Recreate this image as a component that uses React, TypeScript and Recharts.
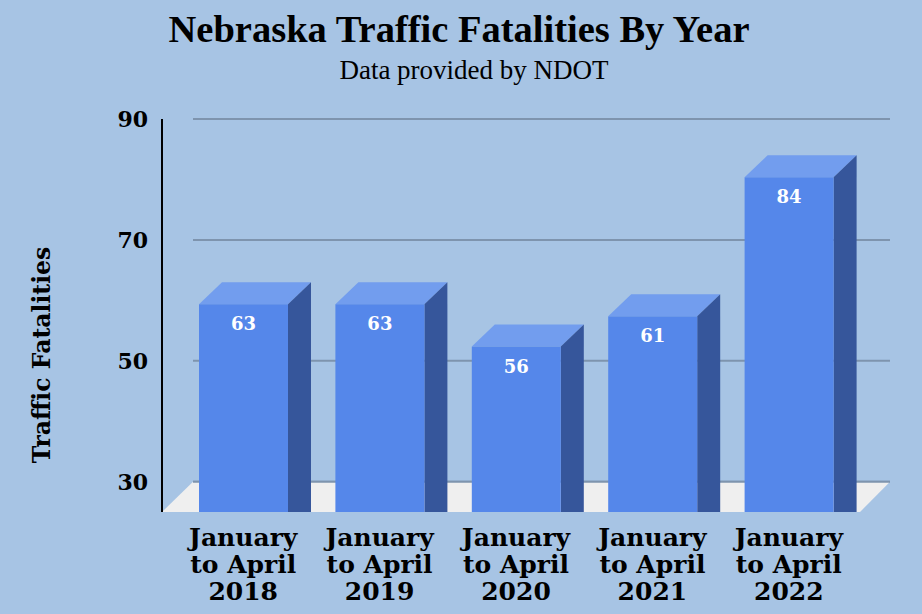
import React from 'react';
import { BarChart, Bar, XAxis, YAxis, CartesianGrid, ReferenceArea, Label } from 'recharts';

const periods = [
  'January to April 2018',
  'January to April 2019',
  'January to April 2020',
  'January to April 2021',
  'January to April 2022',
];
const fatalities = [63, 63, 56, 61, 84];
const yTicks = [30, 50, 70, 90];

const data = periods.map((period, i) => ({ period, fatalities: fatalities[i] }));

const SERIF = '"DejaVu Serif", Georgia, serif';
const TITLE_FONT = '"Liberation Serif", "Times New Roman", serif';

// bar depth (3d offset) and floor depth
const BAR_DX = 23;
const BAR_DY = 22;
const FLOOR_D = 31;
const PAD_LEFT = 13;
const PAD_RIGHT = 33;

const Bar3D = (props: any) => {
  const { x, y, width, height, payload } = props;
  const bottom = y + height;
  const frontTop = y + BAR_DY;
  const right = x + width;
  return (
    <g>
      <polygon
        points={`${x},${frontTop} ${x + BAR_DX},${y} ${right + BAR_DX},${y} ${right},${frontTop}`}
        fill="#729dee"
      />
      <polygon
        points={`${right},${frontTop} ${right + BAR_DX},${y} ${right + BAR_DX},${bottom} ${right},${bottom}`}
        fill="#36569b"
      />
      <rect x={x} y={frontTop} width={width} height={bottom - frontTop} fill="#5587ea" />
      <text
        x={x + width / 2}
        y={frontTop + 26}
        textAnchor="middle"
        fill="#ffffff"
        fontFamily={SERIF}
        fontWeight="bold"
        fontSize={18}
      >
        {payload.fatalities}
      </text>
    </g>
  );
};

// the reference area only spans the padded band range, so stretch it back to the plot edges
const Floor = (props: any) => {
  const { y, height } = props;
  const x = props.x - PAD_LEFT;
  const width = props.width + PAD_LEFT + PAD_RIGHT;
  return (
    <g>
      <polygon
        points={`${x},${y + height} ${x + FLOOR_D},${y} ${x + width},${y} ${x + width - FLOOR_D + 1},${y + height}`}
        fill="#efefef"
      />
      <line x1={x + FLOOR_D} x2={x + width} y1={y} y2={y} stroke="#7e94ae" strokeWidth={2} />
    </g>
  );
};

const GridLine = (props: any) => {
  const { x1, x2, y1, y2, index } = props;
  // no line on the floor's front edge (bottom of the plot)
  if (y1 > 500) return <g key={`grid-${index}`} />;
  return <line key={`grid-${index}`} x1={x1 + FLOOR_D} x2={x2} y1={y1} y2={y2} stroke="#7e94ae" strokeWidth={2} />;
};

const PeriodTick = ({ x, y, payload }: any) => {
  const words = String(payload.value).split(' ');
  const lines = [words[0], words.slice(1, 3).join(' '), words[3]];
  return (
    <text x={x} y={y} textAnchor="middle" fill="#000" fontFamily={SERIF} fontWeight="bold" fontSize={25}>
      {lines.map((line, i) => (
        <tspan key={i} x={x} dy={i === 0 ? 34 : 27}>
          {line}
        </tspan>
      ))}
    </text>
  );
};

const App = () => {
  return (
    <div style={{ position: 'absolute', left: 0, top: 0, width: 922, height: 614, background: '#a7c4e4' }}>
      <div
        style={{
          position: 'absolute',
          top: 7,
          left: -2,
          width: 922,
          textAlign: 'center',
          fontFamily: TITLE_FONT,
          fontWeight: 'bold',
          fontSize: 38.5,
          lineHeight: '44px',
        }}
      >
        Nebraska Traffic Fatalities By Year
      </div>
      <div
        style={{
          position: 'absolute',
          top: 54,
          left: 13,
          width: 922,
          textAlign: 'center',
          fontFamily: TITLE_FONT,
          fontSize: 27,
          lineHeight: '32px',
        }}
      >
        Data provided by NDOT
      </div>
      <BarChart
        width={922}
        height={614}
        data={data}
        margin={{ top: 119, right: 32, bottom: 0, left: 32 }}
        style={{ position: 'absolute', left: 0, top: 0 }}
      >
        <CartesianGrid vertical={false} horizontal={GridLine} />
        <ReferenceArea y1={25} y2={30} shape={Floor} ifOverflow="visible" />
        <XAxis
          dataKey="period"
          height={102}
          axisLine={false}
          tickLine={false}
          tickSize={0}
          tickMargin={0}
          interval={0}
          padding={{ left: PAD_LEFT, right: PAD_RIGHT }}
          tick={PeriodTick}
        />
        <YAxis
          width={130}
          domain={[25, 90]}
          ticks={yTicks}
          allowDataOverflow
          axisLine={{ stroke: '#000', strokeWidth: 2 }}
          tickLine={false}
          tickSize={0}
          tickMargin={14}
          tick={{ fill: '#000', fontFamily: SERIF, fontWeight: 'bold', fontSize: 22 }}
        >
          <Label
            content={() => (
              <text
                x={50}
                y={355}
                transform="rotate(-90 50 355)"
                textAnchor="middle"
                fill="#000"
                fontFamily={SERIF}
                fontWeight="bold"
                fontSize={23.5}
              >
                Traffic Fatalities
              </text>
            )}
          />
        </YAxis>
        <Bar dataKey="fatalities" barSize={89} shape={Bar3D} isAnimationActive={false} />
      </BarChart>
    </div>
  );
};

export default App;
